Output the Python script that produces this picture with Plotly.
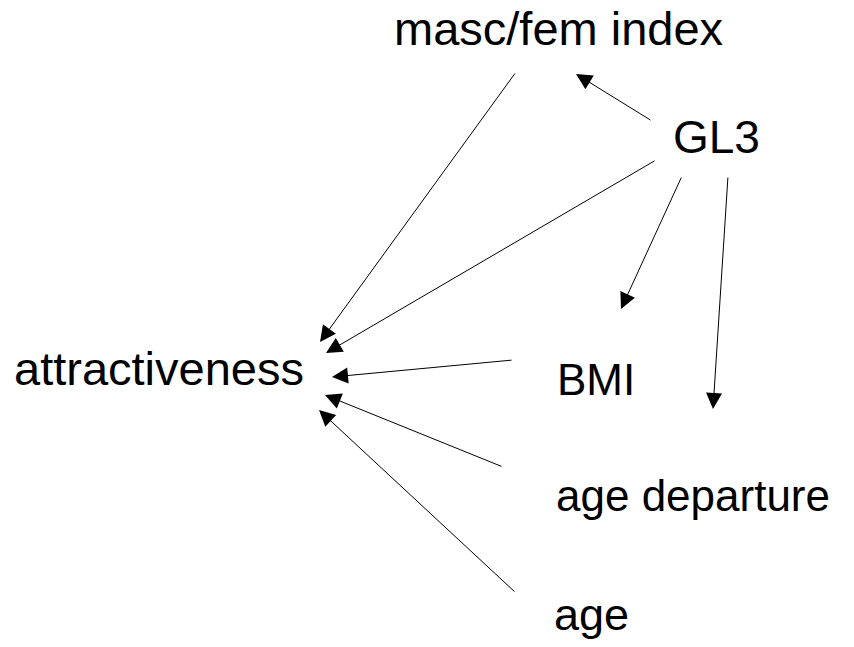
import plotly.graph_objects as go

# Node labels (text) and their label positions / sizes
node_labels = ["masc/fem index", "GL3", "attractiveness", "BMI", "age departure", "age"]
node_x = [558, 716, 158.5, 595.5, 692.5, 591.5]
node_y = [28.5, 137, 368.5, 379.6, 495.6, 614]
node_size = [47, 46, 47, 44, 44, 45]

# Directed edges: source -> target, with tail (ax, ay) and tip (x, y) points
edge_source = ["masc/fem index", "GL3", "BMI", "age departure", "age", "GL3", "GL3", "GL3"]
edge_target = ["attractiveness", "attractiveness", "attractiveness", "attractiveness",
               "attractiveness", "masc/fem index", "BMI", "(unlabelled)"]
edge_tail_x = [516, 656, 513, 503, 516, 652, 682, 728]
edge_tail_y = [72, 160, 360, 467, 593, 121, 176, 176]
edge_tip_x = [320, 326, 332, 325, 319, 576, 621, 713]
edge_tip_y = [342, 353, 377, 395, 410, 74, 309, 409]

fig = go.Figure()
fig.add_trace(go.Scatter(x=[0, 854], y=[0, 647], mode="markers",
                         marker=dict(opacity=0), hoverinfo="skip", showlegend=False))

annotations = []
for lab, x, y, s in zip(node_labels, node_x, node_y, node_size):
    annotations.append(dict(x=x, y=y, xref="x", yref="y", text=lab, showarrow=False,
                            xanchor="center", yanchor="middle",
                            font=dict(family="Liberation Sans, Arial, sans-serif", size=s, color="#000000")))
for tx, ty, hx, hy in zip(edge_tail_x, edge_tail_y, edge_tip_x, edge_tip_y):
    annotations.append(dict(x=hx, y=hy, ax=tx, ay=ty, xref="x", yref="y", axref="x", ayref="y",
                            text="", showarrow=True, arrowhead=2, arrowsize=3.2, arrowwidth=1,
                            arrowcolor="#000000", standoff=0, startstandoff=0))

fig.update_layout(
    width=854, height=647,
    margin=dict(l=0, r=0, t=0, b=0),
    paper_bgcolor="white", plot_bgcolor="white",
    xaxis=dict(range=[0, 854], visible=False, fixedrange=True),
    yaxis=dict(range=[647, 0], visible=False, fixedrange=True),
    annotations=annotations,
    showlegend=False,
)

fig.write_html("out.html", config={"displayModeBar": False},
               post_script="document.body.style.margin='0';document.body.style.overflow='hidden';")
